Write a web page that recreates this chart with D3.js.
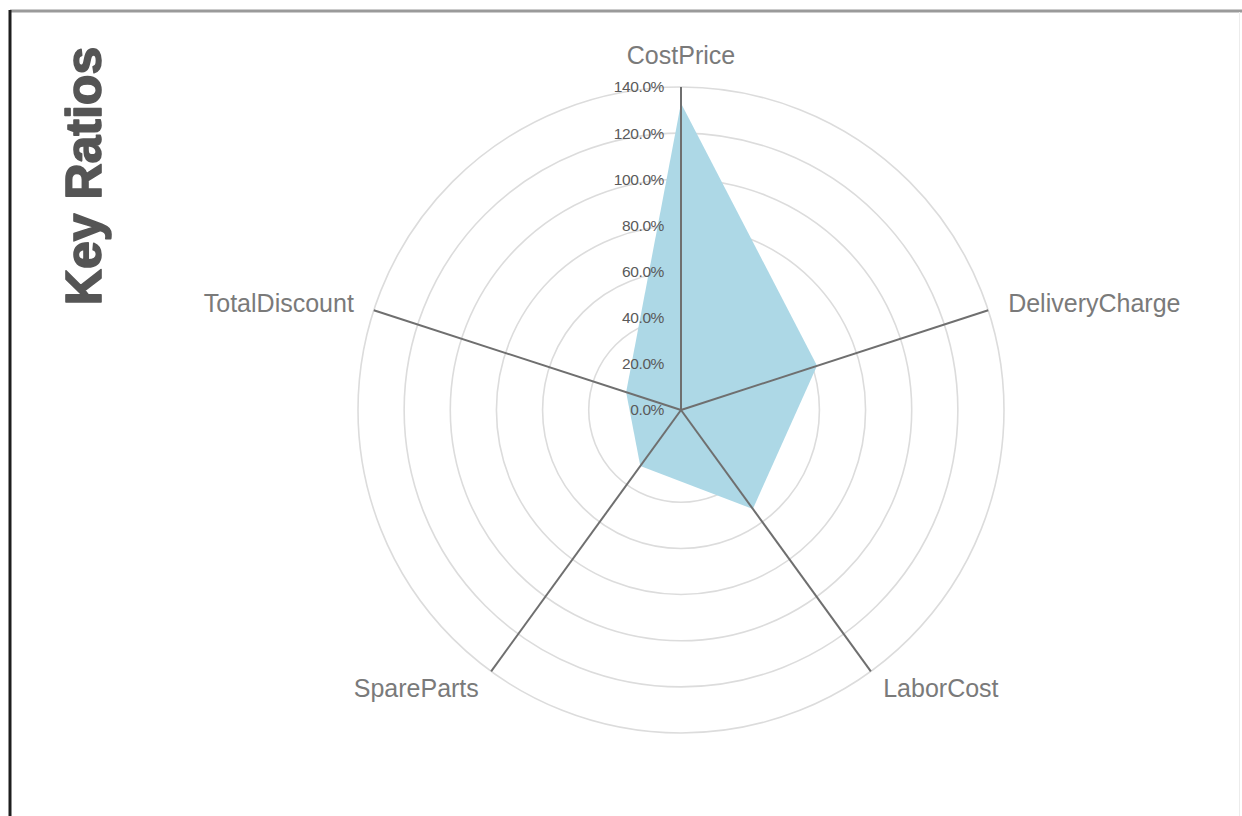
<!DOCTYPE html>
<html>
<head>
<meta charset="utf-8">
<script src="https://cdn.jsdelivr.net/npm/d3@7"></script>
<style>
  html, body { margin: 0; padding: 0; background: #fff; }
  svg { display: block; }
</style>
</head>
<body>
<svg id="chart" width="1242" height="816"></svg>
<script>
// Key ratios, one value per axis (as a share, 1 = 100%)
const categories = ["CostPrice", "DeliveryCharge", "LaborCost", "SpareParts", "TotalDiscount"];
const ratioValues = [1.33, 0.62, 0.53, 0.30, 0.25];
const tickValues = [0, 0.2, 0.4, 0.6, 0.8, 1.0, 1.2, 1.4];
const chartTitle = "Key Ratios";

const svg = d3.select("#chart");
const width = 1242, height = 816;
const cx = 681, cy = 410;

// frame around the panel
svg.append("line").attr("x1", 10).attr("y1", 11).attr("x2", width).attr("y2", 11)
  .attr("stroke", "#9a9a9a").attr("stroke-width", 3);
svg.append("line").attr("x1", 10).attr("y1", 10).attr("x2", 10).attr("y2", height)
  .attr("stroke", "#1e1e1e").attr("stroke-width", 3);
svg.append("line").attr("x1", 1239.5).attr("y1", 12).attr("x2", 1239.5).attr("y2", height)
  .attr("stroke", "#ececec").attr("stroke-width", 1);

// vertical title, heavy weight
svg.append("text")
  .attr("transform", "translate(101,176) rotate(-90)")
  .attr("text-anchor", "middle")
  .attr("font-family", "'Liberation Sans', Arial, sans-serif")
  .attr("font-weight", "bold")
  .attr("font-size", 50)
  .attr("fill", "#555")
  .attr("stroke", "#555")
  .attr("stroke-width", 1.6)
  .attr("stroke-linejoin", "round")
  .text(chartTitle);

const r = d3.scaleLinear().domain([0, 1.4]).range([0, 323]);
const angle = d3.scaleLinear().domain([0, categories.length]).range([0, 2 * Math.PI]);

const g = svg.append("g").attr("transform", `translate(${cx},${cy})`);

// concentric grid rings
g.append("g").selectAll("circle")
  .data(tickValues.filter(d => d > 0))
  .join("circle")
  .attr("r", d => r(d))
  .attr("fill", "none")
  .attr("stroke", "#dcdcdc")
  .attr("stroke-width", 1.6);

// data area
const radial = d3.lineRadial()
  .angle((d, i) => angle(i))
  .radius(d => r(d))
  .curve(d3.curveLinearClosed);

g.append("path")
  .datum(ratioValues)
  .attr("d", radial)
  .attr("fill", "#add8e6")
  .attr("stroke", "none");

// spokes
const maxR = r(1.4);
const pt = (i, rad) => [Math.sin(angle(i)) * rad, -Math.cos(angle(i)) * rad];

g.append("g").selectAll("line")
  .data(categories)
  .join("line")
  .attr("x1", 0).attr("y1", 0)
  .attr("x2", (d, i) => pt(i, maxR)[0])
  .attr("y2", (d, i) => pt(i, maxR)[1])
  .attr("stroke", "#6f6f6f")
  .attr("stroke-width", 2);

// radial tick labels along the first spoke
const fmt = d3.format(".1%");
g.append("g").selectAll("text")
  .data(tickValues)
  .join("text")
  .attr("x", -17)
  .attr("y", d => -r(d))
  .attr("dy", "0.35em")
  .attr("text-anchor", "end")
  .attr("font-family", "'Liberation Sans', Arial, sans-serif")
  .attr("font-size", 15.5)
  .attr("letter-spacing", -0.4)
  .attr("fill", "#5a5a5a")
  .text(d => fmt(d));

// category labels
g.append("g").selectAll("text")
  .data(categories)
  .join("text")
  .each(function(d, i) {
    const [x, y] = pt(i, maxR + 21);
    const t = d3.select(this);
    if (Math.abs(x) < 1) {
      t.attr("x", 0).attr("y", y - 11).attr("text-anchor", "middle");
    } else {
      t.attr("x", x).attr("y", y).attr("text-anchor", x > 0 ? "start" : "end");
    }
  })
  .attr("dy", "0.35em")
  .attr("font-family", "'Liberation Sans', Arial, sans-serif")
  .attr("font-size", 25)
  .attr("fill", "#7a7a7a")
  .text(d => d);
</script>
</body>
</html>
